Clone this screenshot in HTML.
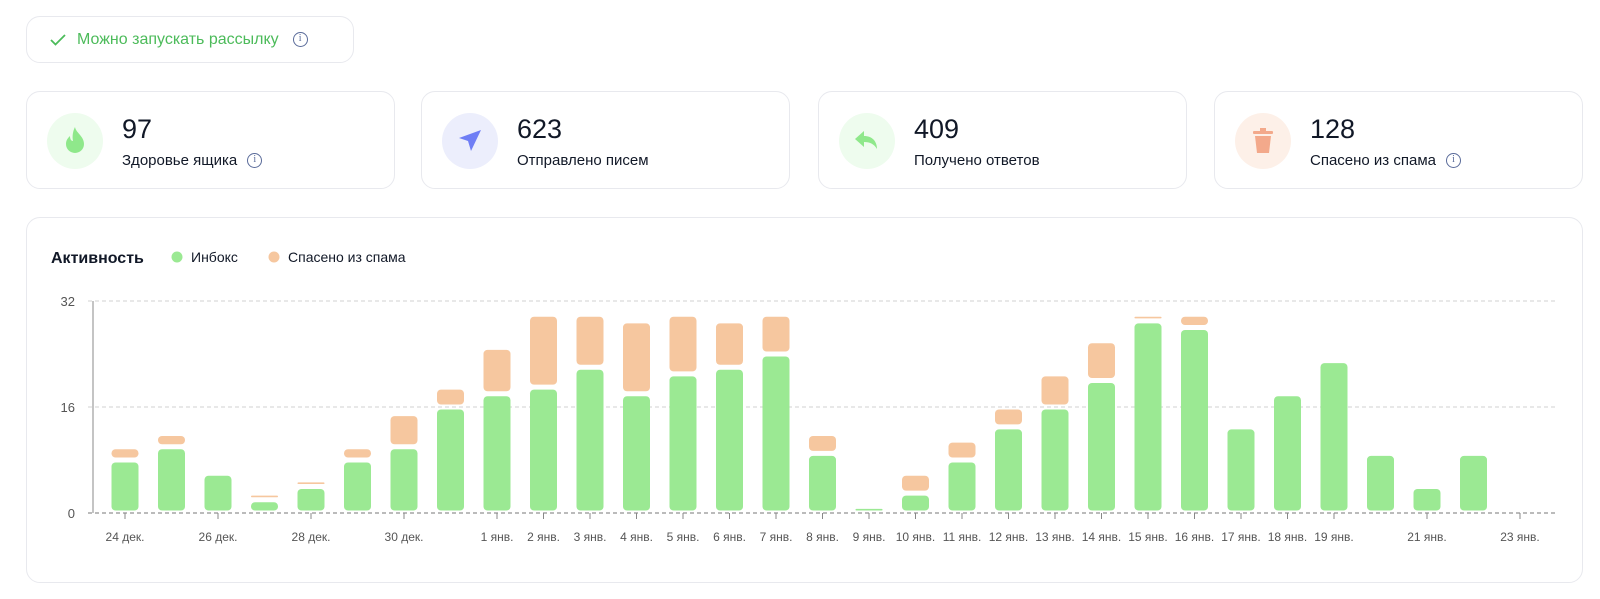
<!DOCTYPE html>
<html><head><meta charset="utf-8"><style>
*{box-sizing:border-box;margin:0;padding:0}
body{width:1600px;height:599px;background:#fff;font-family:"Liberation Sans","DejaVu Sans",sans-serif;position:relative;overflow:hidden;color:#111827}
.card{position:absolute;border:1px solid #e8e9ee;border-radius:14px;background:#fff}
.pill{left:26px;top:16px;width:328px;height:47px;display:flex;align-items:center;padding-left:22px;color:#4cbb5a;font-size:16px}
.stat{top:91px;height:98px;width:369px}
.ic{position:absolute;left:20px;top:21px;width:56px;height:56px;border-radius:50%;display:flex;align-items:center;justify-content:center}
.num{position:absolute;left:95px;top:22px;font-size:27px}
.lbl{position:absolute;left:95px;top:60px;font-size:15px;display:flex;align-items:center;gap:10px}
.info{display:inline-block;width:15px;height:15px;border:1.4px solid #5a6b9a;border-radius:50%;font-size:10px;line-height:12px;text-align:center;color:#5a6b9a;font-family:"Liberation Serif",serif}
</style></head><body>
<div class="card pill">
<svg width="18" height="14" viewBox="0 0 18 14"><path d="M2 7l4.5 4.5L16 2" fill="none" stroke="#4cbb5a" stroke-width="1.8"/></svg>
<span style="margin-left:10px">Можно запускать рассылку</span>
<span class="info" style="margin-left:14px">i</span>
</div>

<div class="card stat" style="left:26px">
<div class="ic" style="background:#eefcee"><svg width="24" height="30" viewBox="0 0 24 30"><path d="M12 1c1 6 9 9 9 17a9 9 0 0 1-18 0c0-4 2-6 4-8 0 3 1 5 3 5-1-5 0-10 2-14z" fill="#8fe88b"/></svg></div>
<div class="num">97</div>
<div class="lbl">Здоровье ящика <span class="info">i</span></div>
</div>
<div class="card stat" style="left:421px">
<div class="ic" style="background:#eceefc"><svg width="28" height="28" viewBox="0 0 28 28"><path d="M25 3L3 11l9 3 3 10z" fill="#6f7ef5"/></svg></div>
<div class="num">623</div>
<div class="lbl">Отправлено писем</div>
</div>
<div class="card stat" style="left:818px">
<div class="ic" style="background:#eefcee"><svg width="28" height="26" viewBox="0 0 28 26"><path d="M11 3L2 11l9 8v-5c6 0 10 2 13 7 0-8-5-13-13-13z" fill="#8fe88b"/></svg></div>
<div class="num">409</div>
<div class="lbl">Получено ответов</div>
</div>
<div class="card stat" style="left:1214px">
<div class="ic" style="background:#fdf0e8"><svg width="24" height="28" viewBox="0 0 24 28"><rect x="2" y="4" width="20" height="3" rx="1" fill="#f3a98b"/><rect x="9" y="1" width="6" height="3" fill="#f3a98b"/><path d="M4 9h16l-2 17H6z" fill="#f3a98b"/></svg></div>
<div class="num">128</div>
<div class="lbl">Спасено из спама <span class="info">i</span></div>
</div>

<div class="card" style="left:26px;top:217px;width:1557px;height:366px"></div>
<svg width="1600" height="599" style="position:absolute;left:0;top:0" id="chart" font-family="Liberation Sans, sans-serif">
<text x="51" y="263" font-size="16" font-weight="bold" fill="#111827">Активность</text>
<g><circle cx="177" cy="257" r="5.5" fill="#9be993"/><text x="191" y="262" font-size="14" fill="#111827">Инбокс</text></g>
<g><circle cx="274" cy="257" r="5.5" fill="#f6c79f"/><text x="288" y="262" font-size="14" fill="#111827">Спасено из спама</text></g>
</svg>
<script>
const categories=["24 дек.","25 дек.","26 дек.","27 дек.","28 дек.","29 дек.","30 дек.","31 дек.","1 янв.","2 янв.","3 янв.","4 янв.","5 янв.","6 янв.","7 янв.","8 янв.","9 янв.","10 янв.","11 янв.","12 янв.","13 янв.","14 янв.","15 янв.","16 янв.","17 янв.","18 янв.","19 янв.","20 янв.","21 янв.","22 янв.","23 янв."];
const inbox=[8,10,6,2,4,8,10,16,18,19,22,18,21,22,24,9,1,3,8,13,16,20,29,28,13,18,23,9,4,9,0];
const spam=[2,2,0,1,1,2,5,3,7,11,8,11,9,7,6,3,0,3,3,3,5,6,1,2,0,0,0,0,0,0,0];
const shownLabels=["24 дек.","26 дек.","28 дек.","30 дек.","1 янв.","2 янв.","3 янв.","4 янв.","5 янв.","6 янв.","7 янв.","8 янв.","9 янв.","10 янв.","11 янв.","12 янв.","13 янв.","14 янв.","15 янв.","16 янв.","17 янв.","18 янв.","19 янв.","21 янв.","23 янв."];
const yTicks=[0,16,32];
const NS="http://www.w3.org/2000/svg";
const svg=document.getElementById('chart');
const X0=93,X1=1556,Y0=513,Y1=301,MAX=32,slot=46.5,first=125,BW=27;
const y=v=>Y0-(v/MAX)*(Y0-Y1);
const x=i=>first+i*slot;
function mk(t,a){const e=document.createElementNS(NS,t);for(const k in a)e.setAttribute(k,a[k]);svg.appendChild(e);return e;}
yTicks.forEach(v=>{
 const g=mk('line',{x1:88,x2:X1,y1:y(v),y2:y(v),stroke:v===0?'#777':'#d0d0d0','stroke-dasharray':'4 3','stroke-width':1});
 
 
 const t=mk('text',{x:75,y:y(v)+5,'font-size':13,fill:'#555','text-anchor':'end'});t.textContent=v;
 
 
});
const ax=mk('line',{x1:X0,x2:X0,y1:Y1,y2:Y0,stroke:'#888','stroke-width':1});


function seg(i,a,b,fill,name){
 const top=y(b)+2.5,bot=y(a)-2.5;const h=Math.max(bot-top,1.5);
 const r=mk('rect',{x:x(i)-BW/2,y:top,width:BW,height:h,rx:Math.min(4,h/2),fill:fill});
 
 
}
categories.forEach((c,i)=>{
 if(inbox[i]>0)seg(i,0,inbox[i],'#9be993','bar-inbox');
 if(spam[i]>0)seg(i,inbox[i],inbox[i]+spam[i],'#f6c79f','bar-spam');
 if(shownLabels.includes(c)){
  const tk=mk('line',{x1:x(i),x2:x(i),y1:Y0,y2:Y0+6,stroke:'#888'});
  
  
  const t=mk('text',{x:x(i),y:541,'font-size':12,fill:'#555','text-anchor':'middle'});t.textContent=c;
  
  
 }
});
</script>
</body></html>
